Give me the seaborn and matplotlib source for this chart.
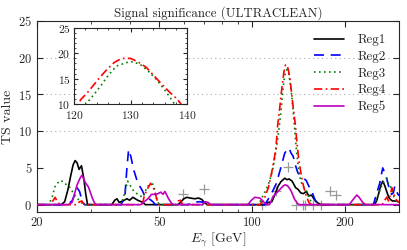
import numpy as np
import pandas as pd
import matplotlib
matplotlib.use("Agg")
import matplotlib.pyplot as plt
import seaborn as sns
from matplotlib.ticker import FixedLocator, NullFormatter, LogLocator, MultipleLocator

# --- data (E in GeV, TS value) ---
reg1_E = [20, 24.0, 24.6, 25.2, 25.7, 26.2, 26.6, 27.0, 27.4, 27.9, 28.4, 28.8, 29.2,
          35.0, 35.8, 36.4, 37.0, 38.0, 39.2, 40.0, 41.0, 42.5, 44.2, 45.0,
          57.5, 58.5, 60.0, 61.4, 63.0, 65.2, 67.0, 68.7, 70.0, 71.5,
          110, 113, 116, 119, 121.5, 124, 127.7, 130, 132, 135, 138.6, 141, 144, 147,
          150, 153, 156, 160, 164, 168,
          250, 254, 258, 262, 266, 270, 274, 278, 282, 286, 292, 300]
reg1_TS = [0, 0, 0.4, 2.0, 3.8, 5.4, 6.0, 5.7, 4.8, 5.3, 3.5, 1.5, 0,
           0, 0.6, 0.8, 0.3, 0.5, 0.8, 0.6, 1.0, 0.6, 0.3, 0,
           0, 0.3, 0.8, 1.0, 0.9, 0.8, 0.9, 0.7, 0.3, 0,
           0, 0.3, 0.4, 1.5, 2.5, 3.1, 3.6, 3.4, 3.5, 3.2, 2.3, 2.1, 1.6, 1.5,
           1.8, 1.2, 1.3, 0.6, 0.2, 0,
           0, 0.5, 1.5, 2.6, 3.2, 2.6, 1.8, 1.0, 0.7, 0.5, 0.5, 0.4]

reg2_E = [20, 25.0, 26.0, 26.6, 27.0, 27.5, 28.0, 28.5,
          37.5, 38.6, 39.2, 39.7, 40.4, 41.2, 42.2, 43.0, 43.9, 44.9, 46.0, 47.6, 48.5,
          62, 64, 67.5, 70, 73,
          110, 112.7, 116, 120, 124, 127.7, 130, 131.9, 134, 136, 138.5, 141, 144, 147,
          150, 153, 156, 159, 163,
          248, 254, 260, 263, 266, 269, 273, 278, 284, 288, 291, 295, 300]
reg2_TS = [0, 0, 0.5, 1.5, 2.3, 1.8, 0.6, 0,
           0, 1.0, 5.0, 7.5, 6.5, 4.8, 3.4, 2.6, 2.0, 1.1, 0.9, 0.4, 0,
           0, 0.3, 0.4, 0.3, 0,
           0, 0.7, 1.6, 2.9, 5.0, 7.0, 7.5, 7.7, 7.0, 6.6, 5.3, 4.3, 4.0, 3.6,
           3.3, 2.5, 2.0, 1.0, 0,
           0, 1.5, 2.9, 4.0, 5.0, 4.5, 3.8, 2.5, 1.4, 1.6, 2.5, 1.8, 1.2]

reg3_E = [20, 21.8, 22.4, 22.9, 23.4, 24.0, 24.3, 24.8, 25.2, 25.7, 26.2, 26.8, 27.6, 28.3,
          37.5, 38.5, 39.4, 40.2, 41.0, 42.5, 44.2, 45.0, 45.5, 46.6, 47.6, 48.3, 49.1, 50,
          105, 107, 111, 114, 116.8, 119, 121.5, 122.8, 124.6, 126.0, 127.5, 129.9, 131.6,
          133.1, 134.6, 136.0, 137.2, 139, 141, 143, 145, 148, 150, 153, 156, 158,
          248, 252, 258, 264, 270, 274, 279, 284, 289, 294, 300]
reg3_TS = [0, 0, 1.0, 2.5, 3.0, 3.3, 3.0, 2.8, 2.5, 2.3, 1.6, 1.0, 0.5, 0,
           0, 1.5, 3.2, 2.6, 2.0, 1.4, 1.0, 1.8, 2.4, 2.7, 2.8, 2.0, 0.5, 0,
           0, 0.7, 2.0, 3.2, 4.8, 6.8, 9.3, 10.9, 13.4, 15.6, 17.5, 18.4, 17.9,
           16.5, 14.8, 12.8, 10.9, 8.0, 5.5, 3.8, 2.9, 2.2, 2.0, 1.0, 0.3, 0,
           0, 0.5, 1.5, 2.6, 3.4, 3.6, 2.6, 2.3, 1.1, 0.5, 0.3]

reg4_E = [20, 22.0, 22.6, 22.9, 23.3, 23.8, 27.0, 27.5, 28.0, 28.5,
          44.0, 44.6, 45.5, 46.2, 46.8, 47.6, 48.5, 49.3, 50,
          56.5, 57.5, 58.5, 59.5, 69, 70, 71.5,
          106, 110, 113, 116, 119.5, 121.2, 122.4, 123.5, 124.5, 125.8, 127.1, 128.4,
          130.0, 131.3, 132.8, 134.1, 135.6, 137.0, 138.2, 140, 142, 144.6, 147, 150, 153, 156,
          265, 270, 274, 278, 282, 285, 288, 291, 295, 300]
reg4_TS = [0, 0, 0.6, 1.0, 0.4, 0, 0, 0.4, 0.5, 0,
           0, 1.1, 2.0, 2.5, 2.9, 2.5, 1.5, 0.4, 0,
           0, 0.5, 0.6, 0, 0, 0.3, 0,
           0, 1.0, 2.3, 4.5, 7.5, 10.9, 12.3, 13.8, 15.2, 16.8, 18.2, 19.0,
           19.0, 18.3, 17.2, 15.6, 13.8, 12.2, 11.0, 8.4, 6.0, 4.0, 2.5, 1.2, 0.3, 0,
           0, 0.6, 1.0, 0.5, 1.5, 2.3, 1.6, 1.1, 0.6, 0.3]

reg5_E = [20, 25.3, 26.0, 27.0, 27.6, 28.0, 28.4, 28.7, 29.4, 30.2, 30.7, 31.1,
          43.5, 44.3, 45.9, 47.1, 48.9, 50.5, 51.4, 52.1, 53.4, 54.7, 55.5,
          69, 70.5, 72, 73.5,
          97, 99, 102, 106, 108, 110, 112, 114, 117, 121.4, 126, 128, 130.2, 132, 134.2,
          137.6, 141, 143,
          207, 214, 219, 223, 229, 234, 300]
reg5_TS = [0, 0, 0.3, 2.7, 3.6, 4.0, 3.5, 3.0, 2.4, 1.0, 0.3, 0,
           0, 0.3, 0.8, 1.4, 1.4, 1.7, 1.4, 1.8, 0.9, 0.2, 0,
           0, 0.4, 0.3, 0,
           0, 0.5, 1.0, 0.9, 0.6, 0.2, 0, 0, 1.1, 1.8, 2.5, 2.7, 2.6, 2.3, 1.8,
           0.7, 0.1, 0,
           0, 0.8, 1.3, 1.0, 0.3, 0, 0]

cross_E = [59.6, 69.7, 108, 119.4, 130.5, 138.5, 146, 149, 158, 167, 179, 188]
cross_TS = [1.5, 2.1, 0, 1.8, 5.1, 0, 0, 0, 0, 0, 1.8, 1.3]

labels = ["Reg1", "Reg2", "Reg3", "Reg4", "Reg5"]
series = [(reg1_E, reg1_TS), (reg2_E, reg2_TS), (reg3_E, reg3_TS),
          (reg4_E, reg4_TS), (reg5_E, reg5_TS)]
colors = ["black", "blue", "green", "red", "m"]
styles = ["-", (0, (6, 4)), (0, (1, 2)), (0, (5, 2, 1, 2)), "-"]

sns.set_style("ticks")
plt.rcParams["font.family"] = ["cmr10", "DejaVu Serif"]
plt.rcParams["mathtext.fontset"] = "cm"
plt.rcParams["axes.formatter.use_mathtext"] = True
plt.rcParams["xtick.direction"] = "in"
plt.rcParams["ytick.direction"] = "in"

fig = plt.figure(figsize=(4.07, 2.5), dpi=100)
ax = fig.add_axes([0.0909, 0.152, 0.889, 0.764])
axin = fig.add_axes([0.182, 0.584, 0.278, 0.304])


def draw(a):
    a.scatter(cross_E, cross_TS, marker="+", s=45, color="#999999", linewidths=0.9, zorder=1)
    for (xs, ys), lab, c, ls in zip(series, labels, colors, styles):
        df = pd.DataFrame({"E": xs, "TS": ys})
        sns.lineplot(data=df, x="E", y="TS", ax=a, color=c, linestyle=ls, lw=1.2,
                     label=lab, estimator=None, sort=False, zorder=3)


draw(ax)
for yv in [10, 15, 20]:
    ax.axhline(yv, color="#aaaaaa", ls=(0, (1, 3)), lw=0.8, zorder=0)

ax.set_xscale("log")
ax.set_xlim(20, 300)
ax.set_ylim(-1, 25)
ax.xaxis.set_major_locator(FixedLocator([20, 50, 100, 200]))
ax.xaxis.set_minor_locator(LogLocator(base=10, subs=np.arange(2, 10)))
ax.xaxis.set_minor_formatter(NullFormatter())
ax.set_xticklabels(["20", "50", "100", "200"])
ax.yaxis.set_major_locator(MultipleLocator(5))
ax.tick_params(which="both", top=True, right=True, labelsize=9)
ax.tick_params(which="major", length=4)
ax.tick_params(which="minor", length=2)
ax.set_xlabel(r"$E_\gamma$ [GeV]", fontsize=10, labelpad=1)
ax.set_ylabel("TS value", fontsize=10, labelpad=3)
ax.set_title("Signal significance (ULTRACLEAN)", fontsize=9.3, pad=3)
ax.legend(loc="upper right", frameon=False, fontsize=9.4, handlelength=2.3,
          handletextpad=1.0, labelspacing=0.35, borderaxespad=0.6)

draw(axin)
axin.get_legend().remove()
axin.set_xlim(120, 140)
axin.set_ylim(10, 25)
axin.xaxis.set_major_locator(MultipleLocator(10))
axin.xaxis.set_minor_locator(MultipleLocator(2))
axin.yaxis.set_major_locator(MultipleLocator(5))
axin.yaxis.set_minor_locator(MultipleLocator(1))
axin.tick_params(which="both", top=True, right=True, labelsize=8.3)
axin.tick_params(axis="x", pad=3.5)
axin.tick_params(axis="y", pad=2.5)
axin.tick_params(which="major", length=3)
axin.tick_params(which="minor", length=1.5)
axin.set_xlabel("")
axin.set_ylabel("")

fig.savefig("out.png", dpi=100)
